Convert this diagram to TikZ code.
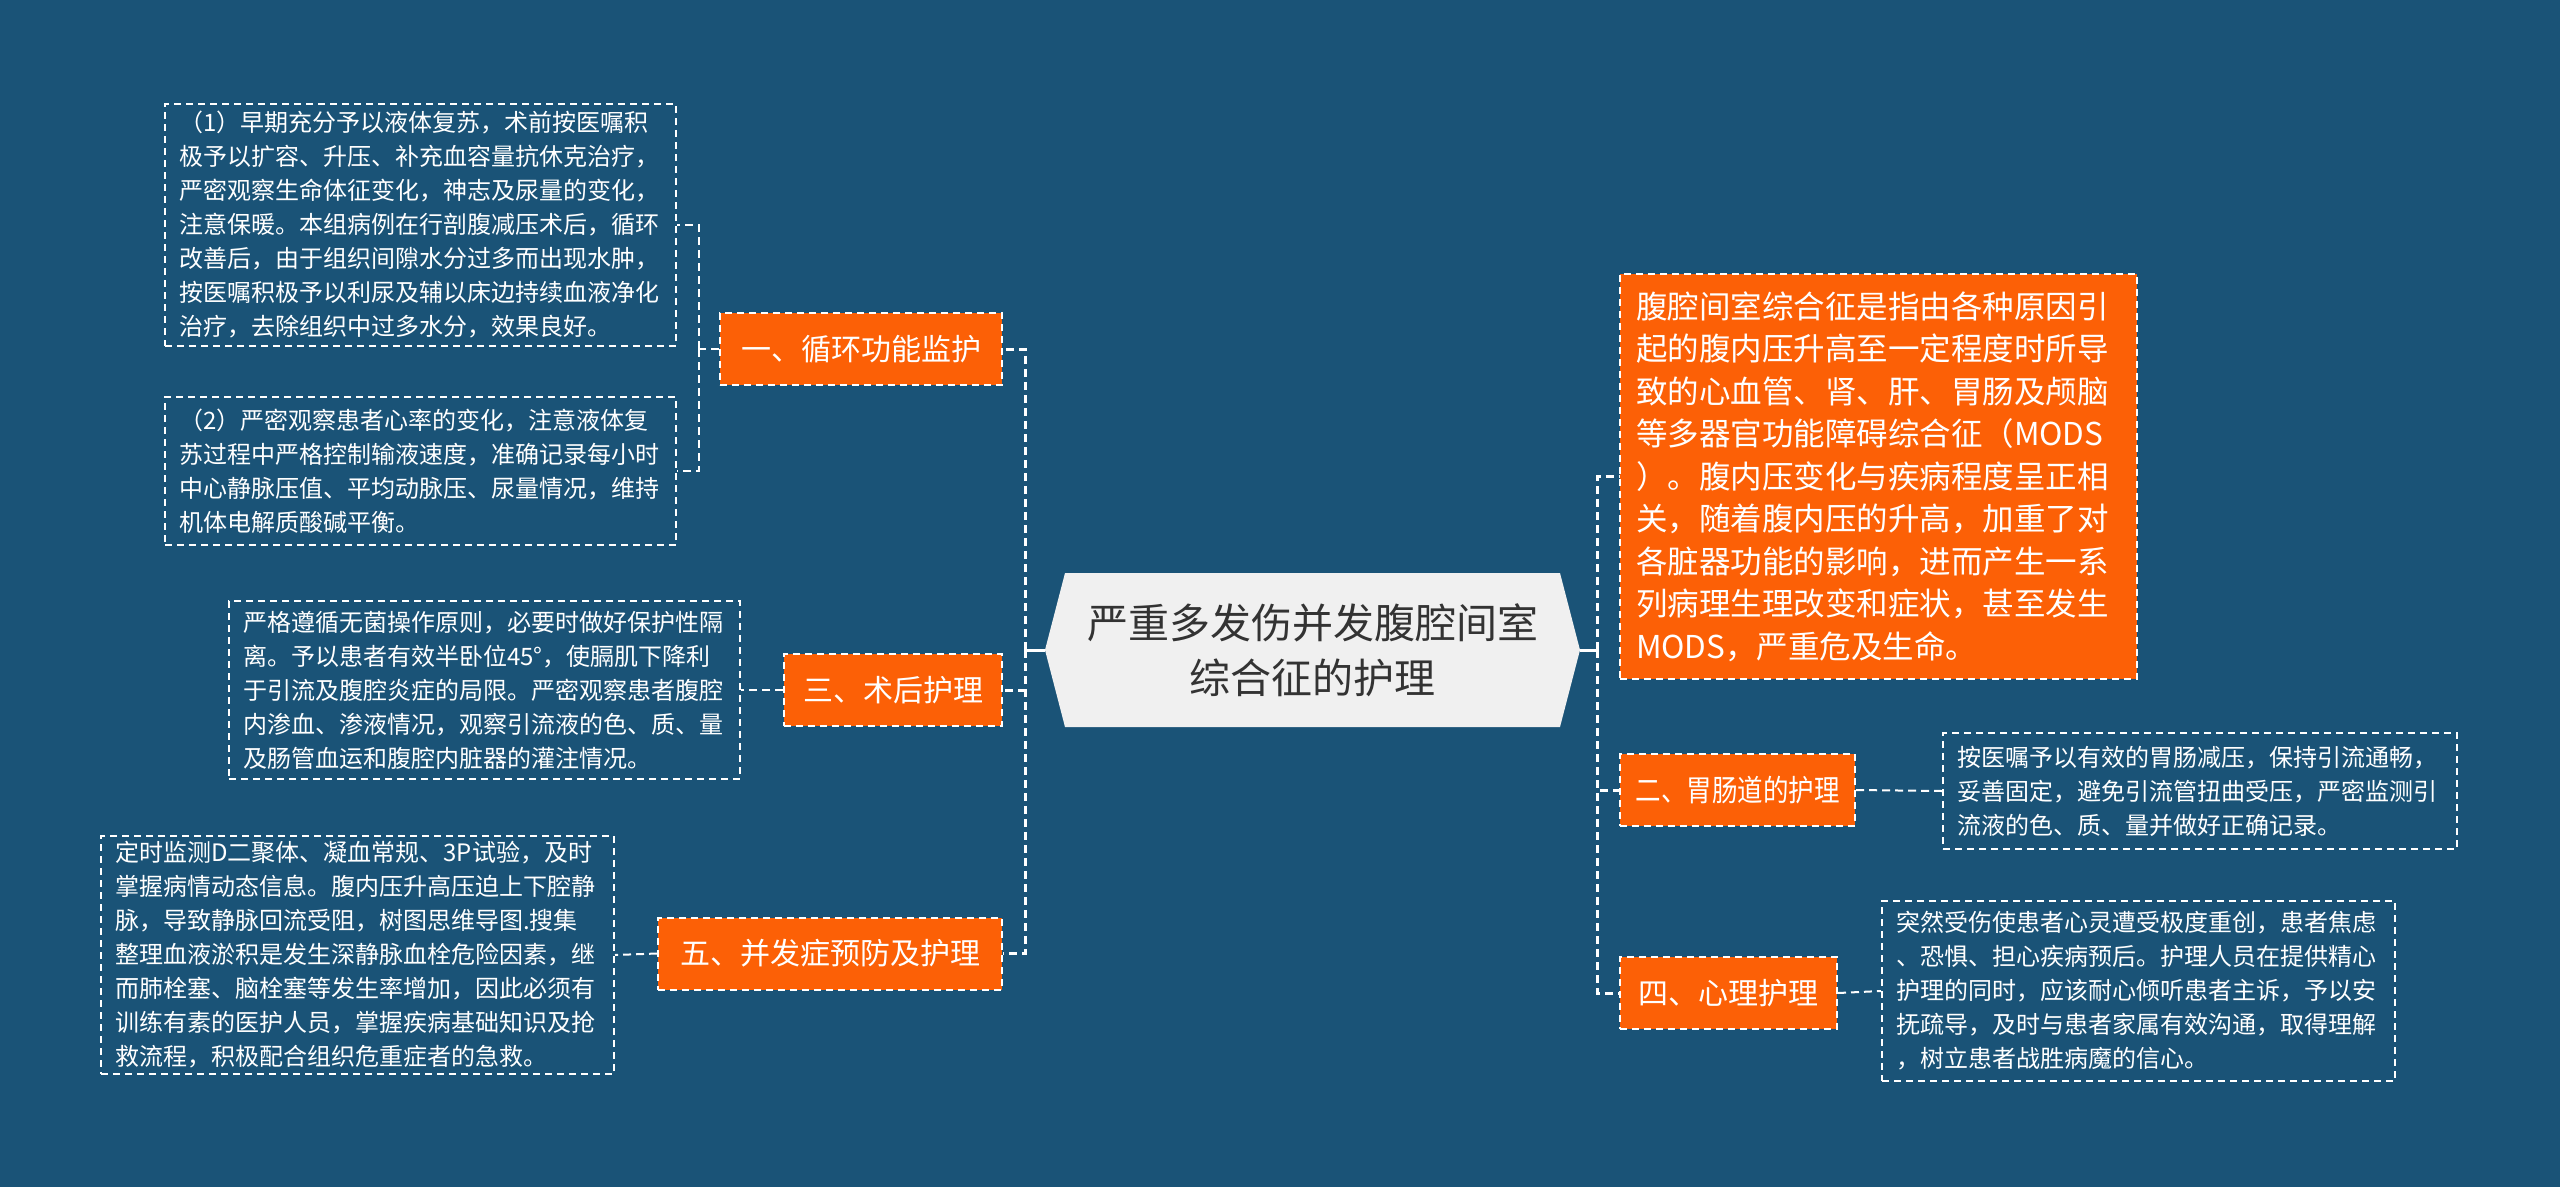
\documentclass[tikz,border=0pt]{standalone}
\usepackage{fontspec}
\usepackage{graphicx}
\setmainfont{Noto Sans CJK SC}
\definecolor{bg}{RGB}{26,83,119}
\definecolor{org}{RGB}{252,96,6}
\definecolor{hexfill}{RGB}{240,240,240}
\definecolor{hextxt}{RGB}{51,51,51}
\begin{document}
\begin{tikzpicture}[x=1pt,y=-1pt,
  leaf/.style={draw=white, line width=2pt, dash pattern=on 7pt off 5pt, text=white, align=left, inner xsep=14pt, inner ysep=0pt, font=\fontsize{24}{34}\selectfont},
  bigleaf/.style={leaf, fill=org, inner xsep=16pt, font=\fontsize{31.5}{42.5}\selectfont},
  branch/.style={draw=white, fill=org, line width=2pt, dash pattern=on 7pt off 5pt, text=white, align=center, inner sep=0pt, font=\fontsize{30}{36}\selectfont, minimum height=72pt},
  link/.style={draw=white, line width=3pt, dash pattern=on 8pt off 5pt},
  sublink/.style={draw=white, line width=2pt, dash pattern=on 8pt off 5pt},
  ]
\useasboundingbox (0,0) rectangle (2560,1187);
\fill[bg] (0,0) rectangle (2560,1187);

% centre
\fill[hexfill] (1045,650) -- (1065,573) -- (1560,573) -- (1580,650) -- (1560,727) -- (1065,727) -- cycle;
\node (c) at (1312.5,650) [minimum width=535pt, minimum height=154pt, inner sep=0pt, align=center, text=hextxt, font=\fontsize{41}{55}\selectfont] {严重多发伤并发腹腔间室\\综合征的护理};

% left branches
\node[branch, minimum width=282pt] (b1) at (861,349) {一、循环功能监护};
\node[branch, minimum width=218pt] (b3) at (893,690) {三、术后护理};
\node[branch, minimum width=344pt] (b5) at (830,953.5) {五、并发症预防及护理};

% right branches
\node[bigleaf, text width=485pt, minimum height=405pt] (r1) at (1878.5,476.5) {腹腔间室综合征是指由各种原因引\\起的腹内压升高至一定程度时所导\\致的心血管、肾、肝、胃肠及颅脑\\等多器官功能障碍综合征（MODS\\）。腹内压变化与疾病程度呈正相\\关，随着腹内压的升高，加重了对\\各脏器功能的影响，进而产生一系\\列病理生理改变和症状，甚至发生\\MODS，严重危及生命。};
\node[branch, minimum width=235pt] (b2) at (1737.5,790) {\scalebox{0.85}[1]{二、胃肠道的护理}};
\node[branch, minimum width=217pt] (b4) at (1728.5,993) {四、心理护理};

% leaves
\node[leaf, text width=483pt, minimum height=242pt] (t1) at (420.5,225) {（1）早期充分予以液体复苏，术前按医嘱积\\极予以扩容、升压、补充血容量抗休克治疗，\\严密观察生命体征变化，神志及尿量的变化，\\注意保暖。本组病例在行剖腹减压术后，循环\\改善后，由于组织间隙水分过多而出现水肿，\\按医嘱积极予以利尿及辅以床边持续血液净化\\治疗，去除组织中过多水分，效果良好。};
\node[leaf, text width=483pt, minimum height=148pt] (t2) at (420.5,471) {（2）严密观察患者心率的变化，注意液体复\\苏过程中严格控制输液速度，准确记录每小时\\中心静脉压值、平均动脉压、尿量情况，维持\\机体电解质酸碱平衡。};
\node[leaf, text width=483pt, minimum height=178pt] (t3) at (484.5,690) {严格遵循无菌操作原则，必要时做好保护性隔\\离。予以患者有效半卧位45°，使膈肌下降利\\于引流及腹腔炎症的局限。严密观察患者腹腔\\内渗血、渗液情况，观察引流液的色、质、量\\及肠管血运和腹腔内脏器的灌注情况。};
\node[leaf, text width=485pt, minimum height=238pt] (t5) at (357.5,955) {定时监测D二聚体、凝血常规、3P试验，及时\\掌握病情动态信息。腹内压升高压迫上下腔静\\脉，导致静脉回流受阻，树图思维导图.搜集\\整理血液淤积是发生深静脉血栓危险因素，继\\而肺栓塞、脑栓塞等发生率增加，因此必须有\\训练有素的医护人员，掌握疾病基础知识及抢\\救流程，积极配合组织危重症者的急救。};
\node[leaf, text width=486pt, minimum height=116pt] (t2r) at (2200,791) {按医嘱予以有效的胃肠减压，保持引流通畅，\\妥善固定，避免引流管扭曲受压，严密监测引\\流液的色、质、量并做好正确记录。};
\node[leaf, text width=485pt, minimum height=180pt] (t4r) at (2138.5,991) {突然受伤使患者心灵遭受极度重创，患者焦虑\\、恐惧、担心疾病预后。护理人员在提供精心\\护理的同时，应该耐心倾听患者主诉，予以安\\抚疏导，及时与患者家属有效沟通，取得理解\\，树立患者战胜病魔的信心。};

% connectors
\coordinate (lt) at (1025,650);
\coordinate (rt) at (1597,650);
\draw[white, line width=3pt] (c.west) -- (lt);
\draw[white, line width=3pt] (c.east) -- (rt);
\draw[link] (lt) |- (b1.east);
\draw[link] (lt) |- (b3.east);
\draw[link] (lt) |- (b5.east);
\draw[link] (rt) |- (r1.west);
\draw[link] (rt) |- (b2.west);
\draw[link] (rt) |- (b4.west);

\coordinate (j1) at (699,349);
\draw[sublink] (b1.west) -- (j1);
\draw[sublink] (j1) |- (t1.east);
\draw[sublink] (j1) |- (t2.east);
\draw[sublink] (b3.west) -- (t3.east);
\draw[sublink] (b5.west) -- (t5.east);
\draw[sublink] (b2.east) -- (t2r.west);
\draw[sublink] (b4.east) -- (t4r.west);
\end{tikzpicture}
\end{document}
